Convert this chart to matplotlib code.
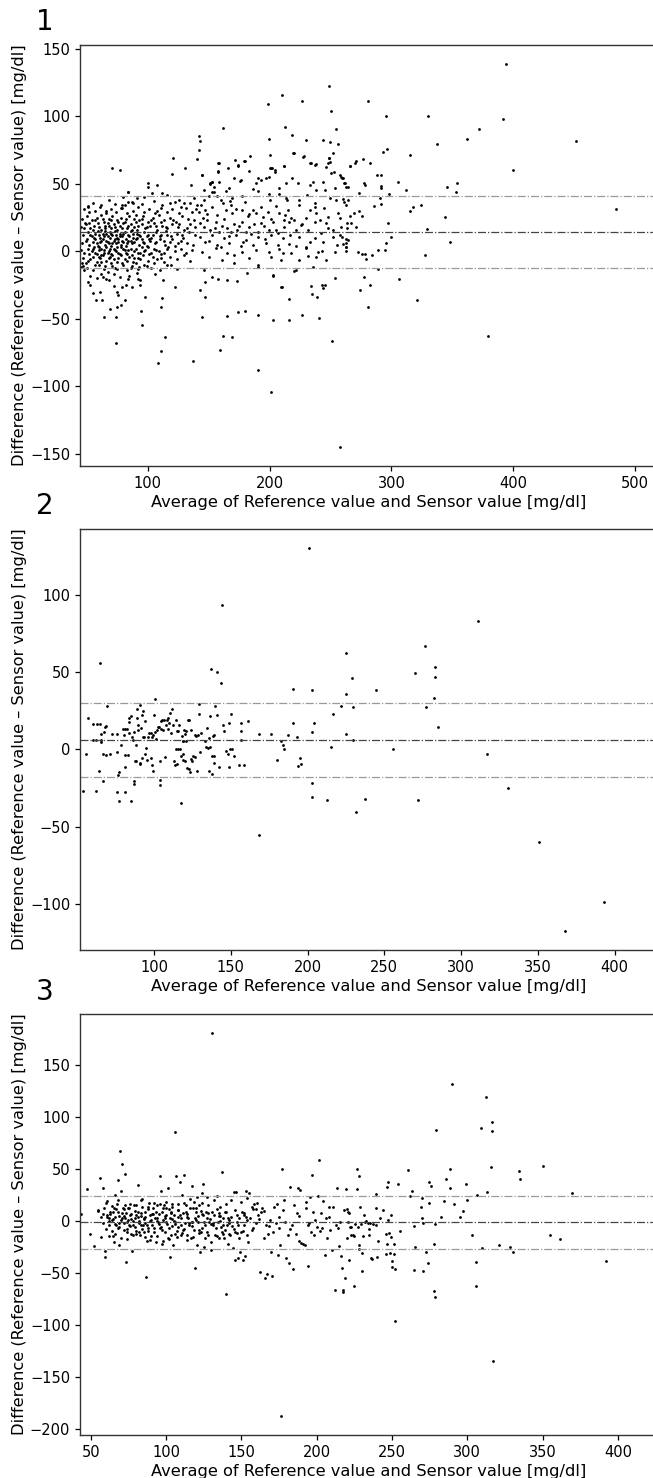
import matplotlib
matplotlib.use("Agg")
import matplotlib.pyplot as plt
import numpy as np

# ---- panel 1 : (average, difference)
pts1 = [
    # left dense cluster
    (48,31),(52,29),(57,30),(61,33),(66,28),(70,31),(74,29),(79,32),(83,28),(88,30),(92,33),(97,29),(101,31),(106,28),(111,32),(116,29),(120,31),(126,28),(131,32),(136,29),(140,31),
    (46,24),(50,26),(54,23),(58,25),(62,27),(64,22),(68,24),(71,26),(75,23),(78,25),(81,22),(85,26),(89,24),(93,23),(96,26),(100,22),(104,25),(109,27),(113,23),(118,25),(123,22),(128,26),(133,24),(138,23),
    (45,18),(49,20),(53,17),(56,19),(59,21),(62,16),(65,19),(67,21),(70,17),(72,20),(75,16),(77,19),(80,21),(83,17),(86,20),(89,18),(91,16),(95,20),(98,17),(102,19),(105,21),(108,16),(112,19),(116,17),(120,20),(125,18),(130,16),(135,20),(139,18),
    (47,12),(51,14),(54,11),(57,13),(59,15),(61,10),(63,13),(65,15),(67,11),(69,14),(71,12),(73,15),(75,10),(77,13),(79,11),(81,14),(84,12),(86,15),(88,10),(91,13),(94,11),(97,14),(100,12),(103,10),(107,14),(111,12),(115,15),(119,11),(124,13),(129,10),(134,14),(139,12),
    (46,6),(49,8),(52,5),(55,7),(57,9),(59,4),(61,7),(63,9),(65,5),(66,8),(68,6),(70,4),(72,8),(74,6),(76,9),(78,5),(80,7),(82,4),(84,8),(87,6),(90,9),(93,5),(96,7),(99,4),(102,8),(106,6),(110,9),(114,5),(118,7),(122,4),(127,8),(132,6),(137,5),
    (45,1),(48,-1),(51,2),(54,0),(56,3),(58,-2),(60,1),(62,2),(64,-1),(66,3),(68,0),(70,-2),(72,2),(74,0),(76,-1),(78,3),(81,1),(83,-2),(86,2),(89,0),(92,-1),(95,3),(98,1),(101,-2),(105,2),(109,0),(113,-1),(117,3),(122,0),(127,2),(131,-1),(136,1),
    (47,-5),(51,-7),(55,-4),(58,-8),(61,-5),(63,-3),(66,-7),(69,-4),(72,-6),(75,-8),(78,-3),(81,-6),(85,-4),(88,-8),(92,-5),(96,-3),(100,-7),(104,-4),(108,-6),(113,-8),(118,-4),(124,-6),(130,-3),(135,-7),
    (50,-12),(55,-14),(60,-10),(64,-13),(67,-15),(71,-11),(75,-13),(79,-9),(83,-14),(87,-11),(92,-13),(97,-10),(103,-12),(110,-14),(116,-10),(124,-13),
    (53,-18),(58,-20),(62,-17),(68,-21),(72,-17),(77,-19),(85,-18),(94,-21),(106,-17),
    (50,9),(53,12),(56,10),(58,6),(60,12),(62,8),(64,11),(66,13),(67,7),(69,10),(70,13),(71,6),(73,9),(74,12),(76,7),(77,11),(79,8),(80,13),(82,9),(83,6),(85,11),(86,8),(88,13),(89,7),(91,10),(93,12),(95,9),(97,6),(99,11),(101,9),(104,12),(107,7),(110,11),(113,8),(116,12),(120,9),(125,6),(128,12),
    (52,21),(55,16),(57,23),(60,18),(63,24),(65,17),(68,19),(70,23),(73,18),(76,22),(79,17),(82,24),(84,19),(87,16),(90,22),(92,19),(95,24),(99,18),(103,23),(107,19),(111,22),(115,18),(121,23),(126,20),(132,17),
    (52,-2),(55,2),(57,-1),(60,3),(62,-3),(64,1),(67,-1),(69,2),(71,-3),(73,1),(75,3),(77,-2),(80,2),(82,-1),(84,1),(87,-3),(90,2),(94,-1),(97,0),(100,3),(103,-1),(107,1),(111,-2),(116,2),
    (49,-9),(53,-6),(57,-10),(60,-4),(62,-8),(65,-11),(68,-5),(70,-9),(73,-12),(76,-5),(80,-10),(83,-7),(86,-12),(90,-9),(94,-6),(99,-11),(105,-9),(111,-5),(119,-10),
    (55,36),(62,34),(68,38),(73,35),(88,36),(95,35),(105,37),(112,34),(118,36),(127,33),(66,30),(90,27),(108,30),
    # sparse upper
    (70.5,61.4),(77.1,60.2),(120.9,69.3),(130.6,61.4),(120.1,57.2),(100.3,50.3),(100.3,47.4),(108,49.3),(140.8,68.3),(142.1,85.4),(143,81.7),(142.1,75),(144.9,56.3),(135.8,49.1),(151.2,50.3),(152.6,51.6),(157.9,65.1),(161.4,91.3),(157.3,59),(165.6,61.4),(171.9,67.6),(174.4,63.7),(179.9,67.1),(176,51.8),(184.3,70.8),(190.9,54),(198.6,108.8),(199.2,83.1),(200.6,71.3),(200.8,61.4),(204.1,60.2),(210.5,115.7),(211.6,63.4),(212.7,92.3),(218.7,86.1),(219.3,72.5),(218.7,54),(226.4,111.3),(230.3,82.4),(227.5,70.1),(233.1,65.1),(237.2,63.9),(235.8,51.1),(244.1,82.4),(249,122.4),(250.7,104.1),(249.6,81.2),(249,68.8),(251.8,72.5),(254.5,90.3),(256.5,79.2),(257.9,56.5),(266.1,63.2),(270.2,65.6),
    (83.5,44.1),(78.5,34.3),(84,36.7),(86.8,36.7),(78,31.8),(81.3,34.3),(90.9,39.2),(97.2,40.4),(103.3,42.9),(111.6,42.9),(115.7,41.7),(122.6,36.7),(125.3,38),(129.5,35.5),(135,36),(137.7,39.2),(140.5,34.3),(51,32.5),(51.2,33.6),(83.7,44.2),(79.6,40.5),
    # sparse lower
    (64.5,-48.9),(73.6,-48.9),(74.1,-68.1),(51.2,-22.5),(52.6,-24.9),(54.8,-31.1),(57.9,-36),(62.8,-36),(69.1,-42.9),(74.6,-41),(78.2,-39.7),(81,-36),(74.4,-29.9),(76,-32.3),(78.8,-26.2),(60.9,-29.9),(63.6,-19.2),(65.6,-20.2),(71.9,-25.7),(45.7,-8.4),(46.6,-10.9),(47.7,-13.8),(45.2,-11.3),(48.5,21.2),(47.7,17),(82.4,-24.9),(83.7,-20.2),(87.1,-26.2),(91.2,-16.3),(92,-20.7),(93.9,-24.9),(94.5,-43.9),(95.3,-54.8),(98.1,-33.8),(92.6,-11.3),(88.4,-5.2),
    (108.5,-82.9),(110.7,-74),(114,-63.7),(110.5,-41),(111.8,-34.8),(112.4,-21.2),(122,-26.2),(137.5,-80.9),(142.7,-28.6),(144.4,-48.9),(147.1,-34),(159.2,-73),(161.4,-62.7),(164.7,-47.9),(169.4,-63.2),(174.1,-44.9),(179.9,-43.9),(190.9,-87.8),(190.4,-47.1),(200.8,-103.9),(202.9,-50.8),(202.9,-18.3),(209.6,-26.2),(216,-35),(216.3,-50.8),(219.8,-14.3),(227,-47.1),(233.9,-25.7),(235,-31.6),(239.1,-33.6),(240.8,-49.6),(242.7,-25.2),(244.1,-27.4),(251,-66.1),(253.7,-20),(257.9,-145.1),
    # middle band 140-265
    (158.4,65.2),(157.9,59.5),(174.4,63.5),(179.1,67.2),(170.8,54.6),(183.2,59.5),(200.3,61.5),(202,61.5),(204.2,59),(211.6,63.2),(219.9,72.6),(227.9,70.6),(233.6,65.2),(237.8,64.5),(246,62.2),(248,65.7),(249.9,66.4),(252.6,58.5),(258.9,55.3),(260.4,54.1),(248.8,69.4),
    (152.9,51.6),(151.5,49.9),(192.9,52.9),(197,54.1),(199.2,55.3),(188.7,50.4),(208,46.7),(213.8,50.4),(223.4,50.4),(232.8,49.2),(238.3,45.5),(243.8,51.6),(245.2,45.5),(250.7,57.8),(261.7,50.4),(263.1,47.9),(144.7,56.6),(146,45.5),(154.3,47.9),(158.4,51.6),(166.7,46.7),(176.3,52.9),
    (152.4,43.7),(154.3,44.2),(157.1,41.3),(164.5,44.7),(169.4,39.3),(177.7,41),(186.5,46),(190.1,44.7),(199.7,42.5),(200.6,38),(208,42.5),(213.5,39.3),(214.1,38),(224.5,38),(230.6,41.7),(236.9,35.6),(249.9,39.3),(254.8,38),(253.5,46.7),(260.4,38.8),(146,38),(150.2,41),(159.8,38),(167.2,37.5),
    (141.9,29.4),(143.8,34.3),(146.9,30.6),(148.8,27.7),(152.9,33.1),(157.1,26.9),(161.7,36.1),(163.9,30.6),(168.1,34.3),(169.4,28.2),(172.2,31.1),(177.7,30.6),(179.6,36.8),(183.2,27.7),(186,30.6),(188.7,28.2),(192.9,32.6),(194.2,25.7),(198.4,29.4),(201.1,23.7),(205.3,33.6),(208,28.2),(212.1,23.2),(214.9,30.6),(217.7,24.5),(220.4,23.2),(224.5,34.3),(229.5,24.5),(232.8,30.6),(236.9,33.1),(241.1,23.2),(244.4,31.9),(247.9,25.7),(256.2,28.2),(257.6,24.5),(263.1,34.3),
    (143.3,20.8),(146,18.3),(148.8,23.2),(151.5,15.8),(155.7,22),(158.4,14.6),(161.2,18.8),(165.3,17.1),(168.1,14.6),(170.8,20.3),(173.6,15.8),(177.2,22),(180.5,14.6),(183.2,18.3),(187.4,20.3),(190.9,14.6),(195.6,18.8),(199.7,15.8),(203.1,22),(206.6,13.8),(212.1,18.3),(216.3,22),(221.8,15.8),(225.9,19.5),(231.4,15.8),(236.9,22),(242.5,13.3),(246.6,20.8),(252.1,15.8),(259,18.3),(263.7,20.8),
    (142.7,10.9),(147.4,7.2),(152.9,12.1),(157.1,4.7),(162.6,9.6),(166.7,6),(172.2,12.1),(176.3,4),(180.5,8.4),(186,4.7),(190.1,10.9),(197,6.4),(201.1,12.1),(206.6,4.7),(210.8,9.6),(216.3,5.5),(224.5,10.9),(230.1,3.5),(236.9,9.6),(243.8,7.2),(252.1,10.9),(260.4,5.5),
    (144.7,-0.2),(150.2,-3.9),(155.7,2.2),(161.2,-6.4),(165.3,-1.5),(170.8,-8.9),(177.7,-0.2),(183.2,-5.2),(190.1,-10.1),(199.7,-0.2),(201.1,-3.9),(209.4,-6.4),(210.8,-1),(217.7,-1.5),(224.5,-6.4),(230.1,2.2),(231.4,-3.4),(238.3,-4.4),(239.7,-0.2),(246.6,-6.4),(253.5,-0.2),(263.1,3.5),(262.6,6),
    (146,-13.8),(152.9,-18.7),(165.3,-21.2),(173.6,-21.7),(181.8,-15.8),(190.1,-11.3),(202.5,-17.5),(210.2,-26.2),(221.8,-13.8),(235.6,-11.3),(245.2,-24.9),(147.4,-22.5),(157.9,-20.7),
    (145,25),(150,8),(155,17),(160,3),(163,24),(167,11),(171,-3),(175,19),(178,7),(182,26),(185,13),(189,1),(193,21),(196,9),(205,16),(208,2),(213,27),(217,12),(222,4),(227,20),(233,7),(238,28),(243,0),(248,17),(255,5),(258,12),
    # right part
    (280.4,111.3),(295.9,100.2),(330,100.2),(293.4,73.3),(296.4,75.5),(315.4,71.3),(337.5,79.2),(362.3,83.1),(371.9,90.3),(392,98.2),(393.9,138.4),(400,60.2),(451.2,81.4),(484.3,31.1),(259.8,54.3),(261.2,50.3),(266.4,63.2),(271.3,67.1),(276.9,68.3),(282.4,65.1),(287.9,56.3),(291.2,56.3),(264.2,47.4),(273.6,43.2),(277.7,50.3),(278.5,49.1),(291.7,48.6),(291.7,46.6),(305.2,51.1),(311.6,45.2),(345.5,47.4),(354.2,50.3),(353.4,44.2),(297.8,42.2),(290.4,39.2),(261.4,36.8),(264.7,38),(285.4,33.3),(291.5,35),(314.9,30.1),(317.4,33.1),(324,34.3),(344.4,25.2),(266.1,26.2),(269.1,28.1),(273,30.1),(276,26.2),(267.2,21.2),(263.4,17),(271.1,18.3),(297.5,21.2),(328.9,16.3),(300,10.4),(295.3,6.4),(259.2,10.9),(262.5,8.9),(264.7,8.4),(262.5,3.5),(262.5,0.2),(272.5,-0.7),(275.8,-2),(278,-2),(284.3,-2.7),(289.3,1),(295,1),(278.8,-5.9),(348.2,7.2),(327.3,-2.7),(289,-12.8),(277.4,-18.8),(306.3,-20.7),(282.4,-24.9),(274.4,-28.6),(280.4,-41),(320.7,-35.8),(379.3,-62.9),
]
bias1, upper1, lower1 = 14.0, 40.7, -12.6

# ---- panel 2
pts2 = [
    (53.5,-26.8),(55.7,-2.8),(57,20.3),(60,16.4),(60.3,6),(62.2,6),(62.4,-26.8),(62.9,16.4),(64,-13.8),(65.1,56.1),(65,16.4),(65.5,10),(65.5,6),(65.5,5),(66.6,-20.7),(66.8,-2.8),(67.7,11.2),(68.1,14.7),(68.5,15),(69,-3.5),(69.2,28.3),(71.4,-2.8),(72.9,10.1),(75.8,10.1),(75.8,-27.6),(76.2,-1.7),(76.6,-16.8),(77.1,-33.7),(77.5,-14.9),(78.4,3),(79.7,13.2),(80.3,9.1),(80.8,-27.6),(81,13.4),(81,-11.7),(81.4,-3.5),(82.5,13.4),(83.2,-3.5),(83.6,20.3),(83.6,10.4),(84,17.7),(84.7,21.4),(84.9,-33.7),(85.4,8.2),(86.2,6),(86.9,11.2),(87.1,-20.7),(87.1,-22.2),(87.3,-7.8),(88,3),(88.4,-7.8),(88.8,20.3),(89,26.1),(89.5,15.5),(89.7,12.7),(90.6,-8.8),(90.8,-9.5),(90.8,28.9),(91.7,13.8),(91.9,22.4),(92,-5.8),(92.6,8.2),(93,24.6),(93.4,8.2),(93.9,-2.8),(94.1,18.1),(95,0.9),(95.6,-6.7),(96.1,8.2),(97,10.4),(97.8,10.6),(98.3,-5.6),(98.5,-9.9),(98.9,8.2),(99.3,-14.2),(99.6,9.5),(99.8,22.4),(100.4,11.2),(100.9,32.6),(101.1,6.9),(101.7,12.7),(102.6,14.2),(103.3,14.7),(103.7,-7.3),(104.1,-19.6),(104.1,-23.3),(104.4,18.1),(104.8,13.4),(105.2,18.8),(105.9,12.7),(106.3,18.8),(107,-5),(107.6,15.5),(108.3,18.8),(109,20.3),(109.2,13.2),(109.8,17),(110.5,23.3),(111,10.8),(111.4,26.1),(112.2,15.5),(112.9,-7.8),(113.5,-10.1),(114,18.8),(114.2,0.2),(114.8,12.1),(114.8,-9.5),(115.5,0.2),(115.9,12.1),(116.6,16),(117,0.2),(117.5,-34.7),(117.7,-4.1),(118.1,8.8),(118.6,5.6),(119,5.6),(118.8,-6.9),(119.2,-3),(119.4,12.5),(119.9,9.9),(120.5,-7.8),(120.7,5.6),(120.9,11.7),(121.4,-12.1),(122.3,19.2),(122.9,-12.7),(123.5,-14.7),(123.1,19.2),(123.8,-6),(124.2,12.7),(124.9,-7.8),(125.5,-4.5),(126.4,-5.2),(126.6,9.5),(127.3,8.8),(127.9,-13.8),(128.6,9.5),(129.5,29.3),(129.5,23.1),(129.9,-1.7),(130.8,10.4),(133.2,5.2),(134.1,1.5),(134.7,13.8),(135.2,0.9),(135.8,7.3),(136,-13.8),(136.2,21.4),(136.5,1.5),(136.9,52.2),(137.6,-16),(137.6,-4.1),(138.2,8.4),(138.9,9.5),(139.3,-4.5),(139.3,-8.8),(139.7,28.3),(141,22.4),(141,50.1),(142.6,-11.7),(143.4,42.9),(144.3,93.2),(145,16),(145.9,12.1),(147.2,-0.9),(148.1,-3),(148.7,-11.7),(149.1,17),(149.8,0.2),(150.6,0.2),(150.2,23.1),(152.4,-4.5),(155.5,-10.4),(156.6,17),(156.6,12.1),(156.8,6),(158.5,-10.4),(160.9,18.1),(168.1,10.1),(168.1,-55.7),(176,10.1),(180.3,-6.9),(182.7,5.2),(184,3),(184.8,0.2),(187.5,9.5),(190.4,39),(190.6,17),(193,8.2),(193.7,-11),(195,-5.8),(196,-9.5),(200.8,130.1),(202.6,-21.8),(202.6,-31.1),(202.8,38.2),(202.8,11.2),(204.4,17),(212.4,-33),(215.3,1.3),(216.4,23.1),(221.8,28.3),(224.9,62.4),(224.9,36),(224.9,10.1),(228.8,46.2),(229.3,27.4),(229.3,6),(231.5,-40.8),
    (237.7,-31.9),(244.7,38.2),(255.7,0.2),(270.1,49.2),(272.1,-33),(276.3,67.1),(277.4,27.2),(282.4,33.2),(283.3,53.1),(283.3,47),(284.8,14.2),(311.3,83.1),(317.2,-2.8),(330.3,-24.8),(350.9,-59.8),(368,-117.6),(393.3,-98.8),
]
bias2, upper2, lower2 = 6.0, 30.0, -18.0

# ---- panel 3
pts3 = [
    (43.3,7),(47.3,31.4),(49.6,-12.5),(51.8,-23.4),(54.5,11.2),(56.2,41.3),(56.9,-15.4),(57.8,32.4),(57.8,6.7),(59.1,-28.5),(59.6,-34.3),(60.7,19.9),(60.7,3.8),(61.8,-3.5),(62.9,7),(64,1.3),(64.5,-14.1),(65.1,12.5),(65.6,-19.6),(66.3,25.3),(66.3,3.8),(66.7,-3.5),(67.4,16.3),(67.8,40.1),(68,9.3),(68.5,-5.8),(68.9,-22.8),(69.6,67.9),(70.3,29.2),(70.5,55.1),(70.7,2.9),(71.2,12.5),(71.8,-1.9),(72.5,15.7),(72.9,45.2),(73.2,-38.8),(73.6,7.7),(74.3,-9.9),(74.7,1.3),(75.2,12.5),(75.6,-3.5),(76.3,6.1),(77,-12.5),(77.6,-28.2),(78.1,0.3),(78.5,15.7),(79.2,-5.1),(79.6,2.9),(80.3,-11.9),(81,34.9),(81.4,9.3),(81.8,-1.9),(82.5,-13.1),(83,20.5),(83.4,5.4),(84.1,13.8),(84.5,-3.5),(85.2,2.9),(85.6,-9.9),(86.3,9.3),(86.7,-53.8),(87.2,-3.5),(87.6,-18.9),(88.3,17.3),(89,0.3),(89.6,-17.9),(90.3,6.7),(90.8,-3.5),(91.2,12.5),(92.1,-6.1),(92.8,2.9),(93.2,-20.2),(94.1,15.7),(94.8,-0.3),(95.4,7.4),(96.1,43.3),(96.3,-5.1),(96.8,29.2),(97,-22.1),(97.4,9.3),(97.9,1.3),(98.6,15.7),(99,-9.9),(99.7,6.1),(100.1,12.5),(100.6,-2.9),(101.2,31.7),(101.4,-16.3),(101.9,11.9),(102.3,-34.6),(102.8,2.9),(103.2,-13.1),(103.7,16.3),(104.1,-4.5),(104.8,-22.8),(105.2,6.1),(105.7,85.9),(106.1,-0.3),(106.6,43.3),(107,-14.7),(107.7,10.9),(108.1,-5.1),(109.2,37.5),(109.7,2.9),(110.4,25.3),(110.8,-11.5),(111.5,7.7),(112.1,44.9),(112.6,-1.9),(113,15.7),(113.7,-13.1),(114.4,2.9),(115.3,-3.5),(115.9,12.5),(116.6,-16.3),(117,34),(117.5,-0.3),(118.2,18.9),(118.8,-8.3),(119.3,-45.2),(119.7,9.3),(120.4,23.7),(120.8,-22.8),(121.3,-0.3),(121.9,15.7),(122.4,-29.2),(123,-9.9),(123.7,26.9),(124.2,6.1),(124.6,36.2),(125.1,-24.4),(125.7,-3.5),(126.4,9.3),(127.1,23.7),(127.7,-13.1),(128.6,-0.3),(129.5,-27.6),(130.2,181.4),(130.6,9.3),(131.3,-3.5),(132,6.1),(132.6,-13.1),(133.5,24),(134.2,-0.3),(134.9,-16.3),(135.5,5.4),(136.2,-5.1),(136.9,47.4),(137.3,-9.9),(138,2.9),(138.6,-16.3),(139.1,9.3),(139.8,-69.6),(140.2,-3.5),(140.9,-21.5),(141.5,1.3),(142.2,-13.1),(142.9,20.2),(143.5,-4.5),(144.2,-26),(144.9,27.9),(145.5,-9.9),(146,-37.5),(146.4,27.9),(147.1,-0.3),(147.6,-35.6),(148.2,-16.3),(148.7,2.9),(149.3,-29.2),(150,-9.9),(150.7,9.3),(151.3,-37.5),(152,-3.5),(152.7,-33.7),(153.1,29.5),(153.6,-13.1),(154,22.8),(154.5,-19.6),(155.1,26.9),(155.8,2.9),(156.7,14.1),(157.6,-6.7),(158.5,17),(159.4,11.9),(160.2,17.3),(161.1,6.1),(162.2,-48.7),(162.9,9.3),(163.8,12.5),(164.7,-16.3),(165.4,-54.8),(166,-3.5),(166.9,-50.3),(167.6,-12.5),(168.7,1.3),(169.8,-29.2),(170.5,-52.2),(170.9,-9.9),(171.8,14.1),(172.7,-1.9),(173.6,17),(174.3,-32.4),(174.9,-6.7),(175.8,-22.8),(176.5,-187.2),(177,50),(177.6,10.9),(178.3,20.8),(179,-0.3),(179.8,-35.6),(180.7,-13.1),(181.6,-40.4),(182.5,33.3),(183.4,-3.5),(184.3,-45.8),(185.2,15.7),(186,-12.5),(186.9,7.7),(187.9,32.4),(188.3,-18.9),(189.2,30.1),(189.9,-21.2),(191,-22.1),(192.1,-22.8),(192.8,18.9),(193.2,12.5),(193.9,-3.5),(194.5,-42.6),(195.4,23.4),(196.1,-9.9),(196.8,44.2),(197.7,9.3),(198.3,-13.1),(199,1.3),(199.9,-5.1),(200.8,24.4),(201.7,58.7),(202.6,7.7),(203.5,-6.7),(204.3,19.9),(205.2,-32.4),(206.1,2.9),(207,-16.3),(207.9,13.8),(208.8,-8.7),(209.9,-27.6),(211,14.1),(211.9,-66),(212.8,-3.5),(213.7,32.4),(214.6,-23.4),(215.5,-0.3),(216.4,-33),(216.8,-45.2),(217.3,-66),(217.7,-67.6),(218.2,10.9),(218.8,-54.8),(219.5,31.1),(219.9,-16.3),(221,9.3),(221.7,-37.2),(222.6,-5.1),(223.9,-13.1),(224.8,-61.9),
    (220.1,11.5),(221,-0.3),(221.7,8.3),(222.3,-5.8),(223,-13.1),(225,-14.1),(225.4,-2.6),(226.6,50.3),(226.6,30.8),(227.7,-5.1),(228.1,43.3),(228.3,-22.8),(228.3,-26.9),(228.8,14.1),(229.5,-2.9),(229.9,-47.8),(230.4,-30.8),(230.8,-14.1),(231.7,6.1),(232.1,-0.3),(232.6,0.3),(233.9,-1.9),(234.8,-13.1),(234.8,-7.4),(235.3,-1.9),(235.9,-35.6),(236.6,-36.2),(237.1,-2.2),(239.7,26.3),(239.7,12.5),(239.7,-3.5),(240.2,-34),(240.4,-18.9),(242,3.5),(244.2,11.2),(245.8,-11.9),(245.8,-31.1),(246.7,32.7),(246.9,-21.8),(247.1,37.5),(247.3,1.3),(248.2,-10.9),(248.4,-30.8),(249.1,-14.7),(249.6,6.1),(250,-38.1),(250,-43.9),(251.1,-21.8),(251.6,-31.7),(251.8,-45.8),(251.8,-95.8),(254,36.2),(255.6,-9),(260.5,49.4),(262.1,24.4),(263.4,29.2),(264.3,-4.5),(264.3,-46.8),(265.4,-25),(269.4,13.5),(269.6,22.1),(269.6,3.5),(270.8,-1.9),(270.8,-47.8),(272.8,-29.5),(274.1,-39.7),(274.6,37.5),(274.6,17.3),(275.9,34.3),(277.9,-21.8),(277.9,-66.7),(278.6,-72.4),(278.6,-2.6),(279,88.1),(282.8,4.5),(284.4,19.2),(285.9,40.4),(288.8,32.1),(288.8,50.3),(289.9,132.4),(291.1,16.3),(294.9,4.5),(296.9,10.3),(298.9,36.2),(299.8,20.2),(303.3,-12.8),(305.6,-38.8),(306,-61.9),(306.3,25.3),(309.4,89.4),(310,-26),(312.5,119.2),(312.9,28.2),(315.8,52.2),(316.3,95.5),(316.3,87.2),(316.9,-134),(321.4,-22.8),(328.3,-25),(330.1,-29.8),(334.2,48.4),(335,40.4),(350.4,53.2),(354.7,-12.8),(361.6,-17),(369.6,27.2),(392.2,-37.8),
    # extra points in the dense core
    (55,10),(59,13),(63,9),(67,12),(71,8),(75,13),(79,10),(83,8),(88,12),(93,9),(98,13),(103,8),(108,11),(113,9),(118,13),(123,10),(128,8),(134,12),(140,9),(146,11),(152,8),(158,12),(165,10),
    (57,4),(61,6),(65,2),(69,5),(73,3),(77,7),(81,4),(85,2),(89,6),(94,3),(99,5),(104,2),(109,6),(114,4),(119,3),(124,7),(129,2),(135,5),(141,3),(147,6),(153,4),
    (58,-2),(62,0),(66,-3),(70,1),(74,-1),(78,-4),(82,0),(86,-2),(90,1),(95,-3),(100,-1),(105,0),(110,-4),(115,-2),(120,1),(125,-1),(130,-3),(136,0),(142,-2),(148,-4),(154,1),(160,-2),
    (60,-7),(64,-9),(68,-6),(72,-8),(76,-5),(80,-9),(84,-7),(88,-6),(92,-10),(97,-8),(102,-6),(107,-9),(112,-7),(117,-5),(122,-8),(127,-10),(133,-6),(139,-8),(145,-7),(151,-9),
    (60,18),(68,20),(76,17),(84,21),(92,18),(100,19),(108,17),(116,21),(124,18),(132,20),(140,17),(150,19),
    (62,-14),(70,-16),(78,-13),(86,-15),(94,-14),(102,-17),(110,-13),(118,-15),(126,-16),(134,-14),(142,-12),
    (62,3),(65,9),(69,-2),(72,5),(74,-7),(77,2),(80,6),(83,-4),(86,4),(88,-9),(91,7),(94,0),(96,-6),(99,3),(103,9),(106,-3),(108,4),(111,-8),(114,7),(117,-1),(121,5),(124,-6),(127,3),(131,-2),(135,8),(138,-4),(143,4),(147,-11),(152,6),(157,-8),(162,2),(168,-5),(175,4),(182,-7),(188,5),(195,-2),(202,-9),(208,4),(214,-6),
    (64,15),(72,12),(80,16),(88,14),(96,17),(104,14),(112,18),(120,13),(128,16),(136,14),
    (66,-12),(74,-17),(82,-10),(90,-14),(98,-19),(106,-12),(114,-18),(122,-11),(130,-20),(138,-12),
]
bias3, upper3, lower3 = -1.0, 24.6, -26.3

xlabel = "Average of Reference value and Sensor value [mg/dl]"
ylabel = "Difference (Reference value \u2013 Sensor value) [mg/dl]"

panels = [
    ("1", pts1, (bias1, upper1, lower1), (44.4, 518), (-158.9, 152.7), np.arange(100, 501, 100), np.arange(-150, 151, 50)),
    ("2", pts2, (bias2, upper2, lower2), (51.8, 427.6), (-129.8, 142.5), np.arange(100, 401, 50), np.arange(-100, 101, 50)),
    ("3", pts3, (bias3, upper3, lower3), (42.8, 426), (-205.5, 199.3), np.arange(50, 401, 50), np.arange(-200, 151, 50)),
]
# axes boxes in pixels: top, bottom
boxes = [(45, 466), (529, 950), (1014, 1435)]
tags_y = [22, 506, 992]

plt.rcParams['font.family'] = ['DejaVu Sans']
W, H = 653, 1478
fig = plt.figure(figsize=(W / 100, H / 100), dpi=100)

for (tag, pts, lines, xl, yl, xt, yt), (top, bot), ty in zip(panels, boxes, tags_y):
    ax = fig.add_axes([80 / W, 1 - bot / H, 577 / W, (bot - top) / H])
    xs = [p[0] for p in pts]
    ys = [p[1] for p in pts]
    ax.scatter(xs, ys, s=4, c='black', marker='o', linewidths=0)
    bias, up, lo = lines
    ax.axhline(bias, color='#444444', ls='-.', lw=0.9)
    ax.axhline(up, color='#999999', ls='-.', lw=0.9)
    ax.axhline(lo, color='#999999', ls='-.', lw=0.9)
    ax.set_xlim(*xl)
    ax.set_ylim(*yl)
    ax.set_xticks(xt)
    ax.set_yticks(yt)
    ax.tick_params(labelsize=10.5, width=0.9)
    ax.set_xlabel(xlabel, fontsize=11.7, labelpad=3)
    ax.set_ylabel(ylabel, fontsize=11.7)
    ax.yaxis.set_label_coords(-0.092, 0.5)
    for sp in ax.spines.values():
        sp.set_color('#333333')
        sp.set_linewidth(1.0)
    fig.text(45 / W, 1 - ty / H, tag, fontsize=20, ha='center', va='center')

fig.savefig('out.png', dpi=100)
